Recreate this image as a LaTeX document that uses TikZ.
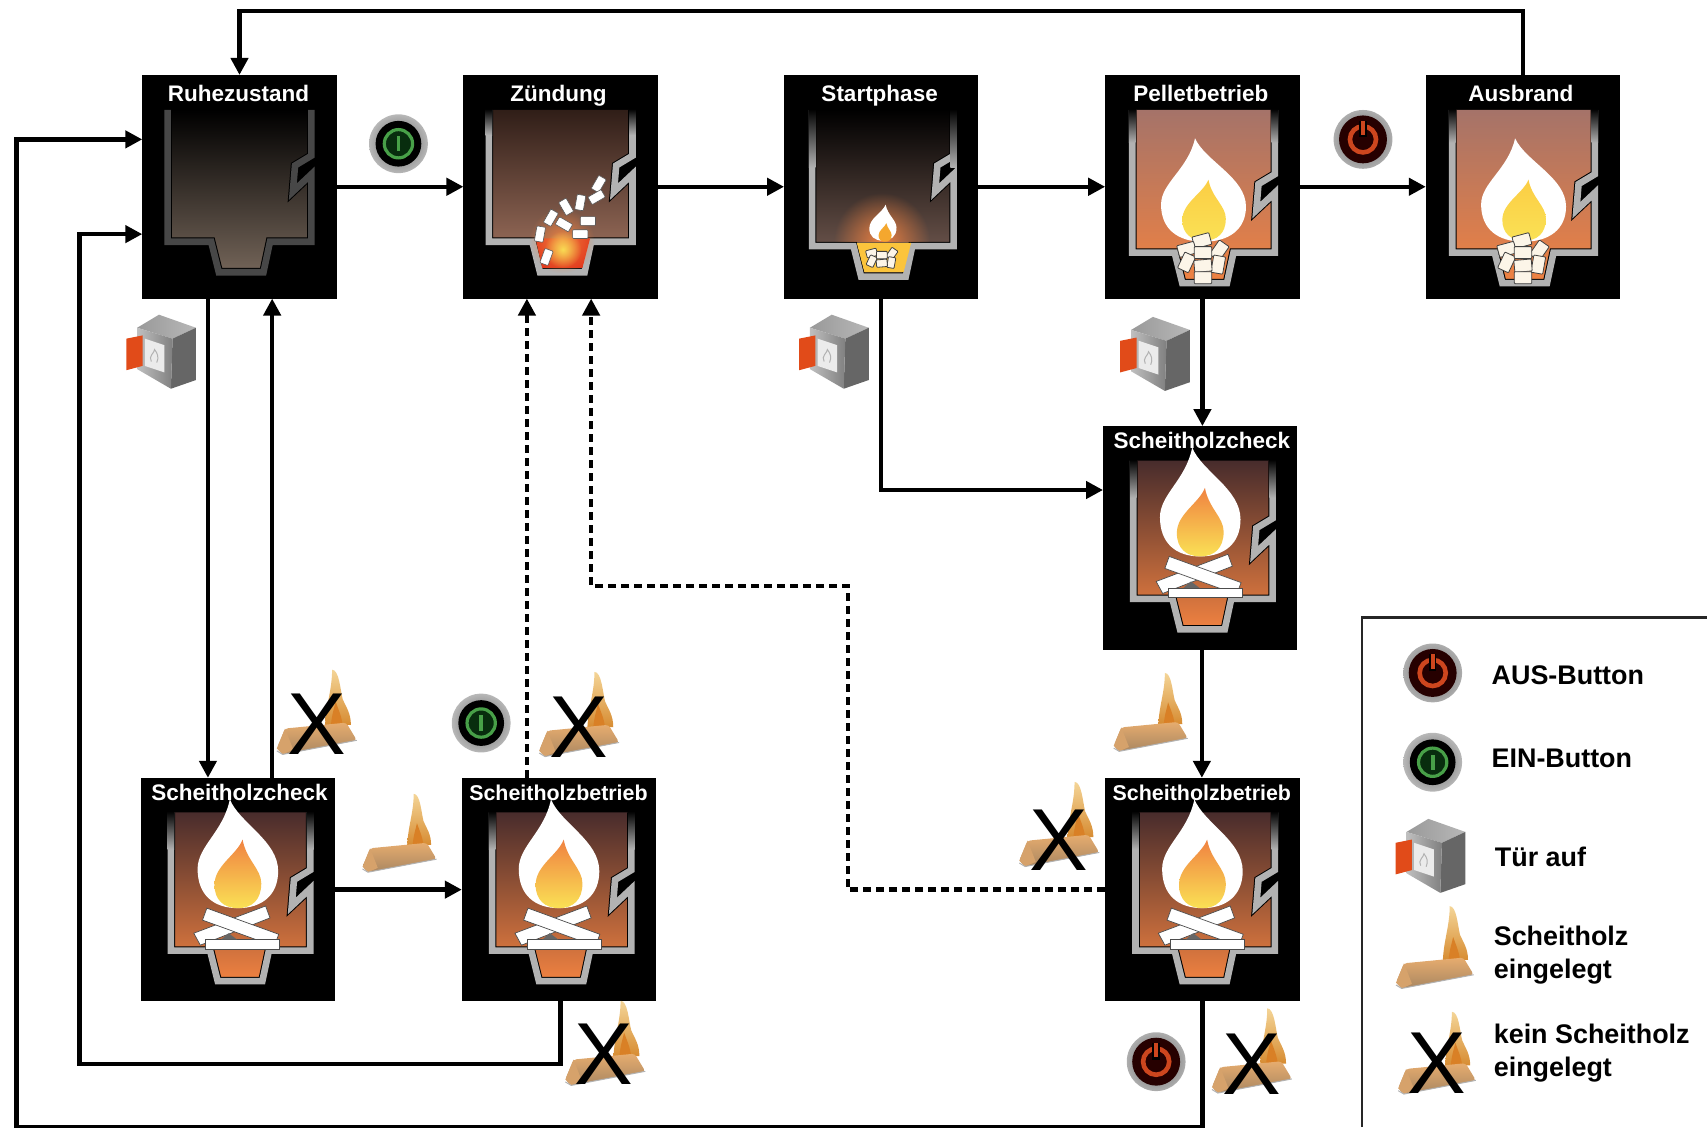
\documentclass[tikz,border=0pt]{standalone}
\usepackage{fontspec}
\setmainfont{Liberation Sans}
\usetikzlibrary{arrows.meta,calc,fadings}
\tikzfading[name=softglow,inner color=transparent!5,outer color=transparent!100]
\definecolor{doorred}{RGB}{225,75,25}
\definecolor{logtan}{RGB}{226,180,130}
\definecolor{okgreen}{RGB}{72,160,72}
\definecolor{okdark}{RGB}{8,45,14}
\definecolor{offred}{RGB}{205,70,30}
\definecolor{wallgray}{RGB}{178,178,178}
\definecolor{fireorange}{RGB}{240,130,65}
\definecolor{fireyellow}{RGB}{250,225,85}
\definecolor{pelTop}{RGB}{165,115,105}
\definecolor{pelMid}{RGB}{212,122,88}
\definecolor{logTop}{RGB}{72,44,44}
\definecolor{logMid}{RGB}{192,116,86}
\definecolor{restMid}{RGB}{26,22,20}
\definecolor{restBot}{RGB}{115,100,88}
\definecolor{zuTop}{RGB}{48,30,24}
\definecolor{zuMid}{RGB}{105,75,62}
\definecolor{zuBot}{RGB}{165,118,98}
\definecolor{stMid}{RGB}{45,36,32}
\definecolor{stBot}{RGB}{125,98,88}
\definecolor{cream}{RGB}{252,245,232}
\definecolor{logflame}{RGB}{238,190,95}
\definecolor{logflamebase}{RGB}{215,140,50}
\tikzset{
  statebox/.style={fill=black,inner sep=0pt,outer sep=0pt,minimum width=194.4pt,minimum height=223.6pt},
  statetitle/.style={text=white,font=\bfseries\fontsize{22.5}{26}\selectfont,inner sep=0pt,anchor=base},
  betriebtitle/.style={text=white,font=\bfseries\fontsize{21.4}{26}\selectfont,inner sep=0pt,anchor=base},
  legendtext/.style={font=\bfseries\fontsize{26.9}{33}\selectfont,inner sep=0pt,anchor=west,align=left},
  crossmark/.style={font=\fontsize{88}{88}\selectfont,inner sep=0pt},
  link/.style={line width=4.4pt,-{Triangle[length=17pt,width=17pt]}},
  dashlink/.style={line width=4.4pt,dash pattern=on 8pt off 5pt},
  framepart/.style={line width=2.4pt,draw=black!85},
  pelletbit/.style={fill=white,draw=black!65,line width=.6pt,rounded corners=.8pt},
  heapbit/.style={fill=cream,draw=black!75,line width=.8pt,rounded corners=.8pt},
}
% interior and wall: floor y, notch y, wall colour, interior colours
\newcommand{\furn}[6]{%
  \shade[top color=#4,middle color=#5,bottom color=#6]
    (\wl,32) -- (\wl,#1) -- (63,#1) -- (70,#1+28) -- (111,#1+28) -- (117,#1) -- (155,#1)
    -- (155,#2+19) -- (138,#2+35) -- (140,#2+11) -- (155,#2+2) -- (155,32) -- cycle;
  \draw[black,line width=8.6pt,line join=miter]
    (\wl,32) -- (\wl,#1) -- (63,#1) -- (70,#1+28) -- (111,#1+28) -- (117,#1) -- (155,#1)
    -- (155,#2+19) -- (138,#2+35) -- (140,#2+11) -- (155,#2+2) -- (155,32);
  \draw[#3,line width=6.6pt,line join=miter]
    (\wl,32) -- (\wl,#1) -- (63,#1) -- (70,#1+28) -- (111,#1+28) -- (117,#1) -- (155,#1)
    -- (155,#2+19) -- (138,#2+35) -- (140,#2+11) -- (155,#2+2) -- (155,32);
}
\newcommand{\walltopfade}[2]{%
  \shade[top color=black,bottom color=#1] (\wl-3,31) rectangle (\wl+3,#2);
  \shade[top color=black,bottom color=#1] (152,31) rectangle (158,#2);
}
\newcommand{\flm}[5]{%
  \begin{scope}[shift={(#1,#2)},xscale=#3,yscale=#4]
  \path[#5] (-0.1,0) .. controls (0.02,0.22) and (0.5,0.38) .. (0.5,0.66)
     .. controls (0.5,0.88) and (0.3,1) .. (0,1)
     .. controls (-0.3,1) and (-0.5,0.88) .. (-0.5,0.64)
     .. controls (-0.5,0.43) and (-0.18,0.3) .. (-0.1,0) -- cycle;
  \end{scope}}
\newcommand{\plt}[3]{%
  \begin{scope}[shift={(#1,#2)},rotate=#3]
  \path[pelletbit] (-7,-4) rectangle (7,4);
  \end{scope}}
\newcommand{\hpt}[3]{%
  \begin{scope}[shift={(#1,#2)},rotate=#3]
  \path[heapbit] (-8,-5.5) rectangle (8,5.5);
  \end{scope}}
\newcommand{\heap}{%
  \hpt{88}{152}{15}\hpt{74}{160}{15}\hpt{104}{161}{55}
  \hpt{74}{172}{65}\hpt{89}{163}{0}\hpt{103}{174}{80}\hpt{89}{175}{5}\hpt{89}{186}{0}}
\tikzset{
  furnrest/.pic={
    \def\wl{23}
    \furn{153}{72}{black!72}{black}{restMid}{restBot}},
  furnzuend/.pic={
    \def\wl{23}
    \furn{153}{72}{wallgray}{zuTop}{zuMid}{zuBot}
    \walltopfade{wallgray}{55}
    \path[fill=red!55!brown] (66,150) -- (116,150) -- (109,177) -- (72,177) -- cycle;
    \path[fill=fireorange,path fading=softglow,fit fading=true] (90,152) circle (30);
    \path[fill=fireyellow,path fading=softglow,fit fading=true] (91,160) circle (17);
    \plt{124}{100}{60}\plt{122}{112}{30}\plt{107}{117}{80}\plt{94}{121}{120}\plt{80}{131}{60}
    \plt{92}{137}{150}\plt{114}{134}{0}\plt{70}{146}{80}\plt{107}{146}{0}\plt{76}{167}{70}},
  furnstart/.pic={
    \def\wl{25}
    \furn{157}{72}{wallgray}{black}{stMid}{stBot}
    \walltopfade{wallgray}{85}
    \begin{scope}
    \clip (28,90) rectangle (137,153);
    \path[fill=fireorange,path fading=softglow,fit fading=true] (89,152) circle (44);
    \end{scope}
    \path[fill=fireyellow!70!orange] (66,154) -- (116,154) -- (109,181) -- (73,181) -- cycle;
    \flm{90}{119}{-25}{33}{fill=white}
    \flm{92}{136}{-12}{17}{fill=fireorange!70!yellow}
    \begin{scope}[shift={(89,169)},scale=.62,shift={(-89,-169)}]
    \hpt{74}{160}{15}\hpt{104}{161}{55}\hpt{74}{172}{65}\hpt{89}{163}{0}\hpt{103}{174}{80}\hpt{89}{175}{5}
    \end{scope}},
  furnpellet/.pic={
    \def\wl{24}
    \furn{163}{89}{wallgray}{pelTop}{pelMid}{fireorange}
    \walltopfade{wallgray}{62}
    \flm{89.5}{58}{78}{95}{fill=white}
    \flm{90}{96}{-40}{56}{top color=fireyellow!80!orange,bottom color=fireyellow}
    \heap},
  furnlog/.pic={
    \def\wl{27}
    \furn{159}{83}{wallgray}{logTop}{logMid}{fireorange}
    \walltopfade{wallgray}{66}
    \flm{88.5}{20}{74}{100}{fill=white}
    \flm{88.5}{57}{-43}{63}{top color=fireorange,bottom color=fireyellow}
    \path[fill=white,draw=black!70,line width=.7pt] (48,143) -- (114,118) -- (118,129) -- (54,154) -- cycle;
    \path[fill=white,draw=black!70,line width=.7pt] (60,120) -- (126,144) -- (122,155) -- (56,131) -- cycle;
    \path[fill=white,draw=black!70,line width=.7pt] (59,149) -- (127,149) -- (127,158) -- (59,158) -- cycle;
    \path[fill=black!60] (73,149) -- (88,149) -- (80,143) -- cycle;},
  onbutton/.pic={
    \shade[inner color=black!65,outer color=black!28] (0,0) circle (27);
    \path[fill=black] (0,0) circle (21);
    \path[fill=okdark,draw=okgreen,line width=3.2pt] (0,0) circle (13);
    \path[fill=okgreen] (-1.7,-7) rectangle (1.7,7);},
  offbutton/.pic={
    \shade[inner color=black!65,outer color=black!32] (0,0) circle (27);
    \path[fill=black!85!red] (0,0) circle (22);
    \draw[offred,line width=4.6pt] (0,0) circle (12);
    \path[fill=black] (-3.5,-17) rectangle (3.5,-2);
    \path[fill=offred] (-1.7,-17) rectangle (1.7,-4);},
  dooricon/.pic={
    \shade[left color=black!40,right color=black!28] (-2,-33) -- (32,-21) -- (10.5,-11) -- (-22,-21) -- cycle;
    \path[fill=black!60] (10.5,-11) -- (32,-21) -- (32,27) -- (9,35) -- cycle;
    \shade[left color=black!25,right color=black!50] (-22,-21) -- (10.5,-11) -- (9,35) -- (-22,17) -- cycle;
    \path[fill=white!92!black] (-15,-11) -- (3,-5) -- (3,20) -- (-15,14) -- cycle;
    \draw[black!30,line width=1pt] (-9,10) .. controls (-12,5) and (-6,2) .. (-6,-1) .. controls (-3,3) and (-2,6) .. (-4,11);
    \path[fill=doorred] (-32,-11) -- (-17,-14) -- (-17,14) -- (-32,18) -- cycle;},
  logicon/.pic={
    \shade[top color=logflame!65!white,bottom color=logflamebase]
      (7,10) .. controls (8,-8) and (13,-20) .. (13,-37) .. controls (19,-37) and (20,-20) .. (22,-12) .. controls (25,-5) and (29,0) .. (29,10) -- cycle;
    \path[fill=orange!40!brown] (12,10) .. controls (13,0) and (15,-5) .. (16,-10) .. controls (18,-4) and (21,2) .. (22,10) -- cycle;
    \shade[top color=logtan!85!orange,bottom color=logtan!75!black,rounded corners=3pt]
      (-27,13) -- (25,8) -- (34,23) -- (-29,35) -- (-34,30) -- cycle;
    \path[fill=logtan!65!brown] (-27,13) -- (-20,31) -- (-29,35) -- (-34,30) -- cycle;
    \draw[black!30,line width=1pt] (-34,32) -- (-29,35) -- (34,23);},
}
\begin{document}
\begin{tikzpicture}[x=1.08865pt,y=-1.0889pt]
\useasboundingbox (0,0) rectangle (1568,1035);
% state boxes
\node[statebox] (ruhe) at (220,171.5) {};
\node[statebox] (zuend) at (515,171.5) {};
\node[statebox] (start) at (809.5,171.5) {};
\node[statebox] (pellet) at (1104.5,171.5) {};
\node[statebox] (ausbrand) at (1399,171.5) {};
\node[statebox] (checkr) at (1102.5,494) {};
\node[statebox] (betriebr) at (1104.5,817) {};
\node[statebox] (checkl) at (218.5,817) {};
\node[statebox] (betriebl) at (513.5,817) {};
% furnace pictures
\pic at (131,69) {furnrest};
\pic at (426,69) {furnzuend};
\pic at (721,69) {furnstart};
\pic at (1016,69) {furnpellet};
\pic at (1310,69) {furnpellet};
\pic at (1014,391) {furnlog};
\pic at (1016,714) {furnlog};
\pic at (130,714) {furnlog};
\pic at (425,714) {furnlog};
% titles
\node[statetitle] (truhe) at (219,93) {Ruhezustand};
\node[statetitle] (tzuend) at (513,93) {Zündung};
\node[statetitle] (tstart) at (808,93) {Startphase};
\node[statetitle] (tpellet) at (1103,93) {Pelletbetrieb};
\node[statetitle] (tausbrand) at (1397,93) {Ausbrand};
\node[statetitle] (tcheckr) at (1104,412) {Scheitholzcheck};
\node[betriebtitle] (tbetriebr) at (1104,735) {Scheitholzbetrieb};
\node[statetitle] (tcheckl) at (220,735) {Scheitholzcheck};
\node[betriebtitle] (tbetriebl) at (513,735) {Scheitholzbetrieb};
% coordinates of the routes
\coordinate (topline) at (0,10);
\coordinate (bottomline) at (0,1035);
\coordinate (leftfar) at (15,0);
\coordinate (leftnear) at (73,0);
\coordinate (midline) at (0,977);
\coordinate (dashx) at (779,0);
\coordinate (dashy) at (0,538);
\coordinate (inhigh) at ($(ruhe.west)+(0,-43.5)$);
\coordinate (inlow) at ($(ruhe.west)+(0,43.5)$);
\coordinate (outl) at ($(betriebl.south)+(1.5,0)$);
\coordinate (checkin) at ($(checkr.west)+(0,-44)$);
\coordinate (zleft) at ($(zuend.south)+(-31,0)$);
\coordinate (zright) at ($(zuend.south)+(28,0)$);
\coordinate (zleftb) at ($(zuend.south)+(-31,14)$);
\coordinate (zrightb) at ($(zuend.south)+(28,14)$);
% solid connectors
\draw[link] (ausbrand.north) -- (ausbrand.north |- topline) -- (ruhe.north |- topline) -- (ruhe.north);
\draw[link] (ruhe.east) -- (zuend.west);
\draw[link] (zuend.east) -- (start.west);
\draw[link] (start.east) -- (pellet.west);
\draw[link] (pellet.east) -- (ausbrand.west);
\draw[link] (pellet.south) -- (pellet.south |- checkr.north);
\draw[link] (start.south) |- (checkin);
\draw[link] ($(checkr.south)+(1.5,0)$) -- ($(betriebr.north)+(-.5,0)$);
\draw[link] ($(ruhe.south)+(-29,0)$) -- ($(checkl.north)+(-27.5,0)$);
\draw[link] ($(checkl.north)+(31.5,0)$) -- ($(ruhe.south)+(30,0)$);
\draw[link] (checkl.east) -- (betriebl.west);
\draw[link] (outl) -- (outl |- midline) -- (leftnear |- midline) -- (leftnear |- inlow) -- (inlow);
\draw[link] (betriebr.south) -- (betriebr.south |- bottomline) -- (leftfar |- bottomline) -- (leftfar |- inhigh) -- (inhigh);
% dashed connectors
\draw[dashlink] ($(betriebl.north)+(-29.5,0)$) -- (zleftb);
\draw[dashlink] (betriebr.west) -- (dashx |- betriebr.west) -- (dashx |- dashy) -- (zright |- dashy) -- (zrightb);
\draw[link] (zleftb) -- (zleft);
\draw[link] (zrightb) -- (zright);
% event icons
\pic at (366,132) {onbutton};
\pic at (442,664) {onbutton};
\pic at (1252,128) {offbutton};
\pic at (1062,975) {offbutton};
\pic at (148,322) {dooricon};
\pic at (766,322) {dooricon};
\pic at (1061,324) {dooricon};
\pic at (367,766) {logicon};
\pic at (1057,655) {logicon};
\pic[scale=1.08] at (291,655) {logicon};
\pic[scale=1.08] at (532,657) {logicon};
\pic[scale=1.08] at (973,758) {logicon};
\pic[scale=1.08] at (556,959) {logicon};
\pic[scale=1.08] at (1150,966) {logicon};
\node[crossmark] (x1) at (291,665) {X};
\node[crossmark] (x2) at (532,668) {X};
\node[crossmark] (x3) at (973,772) {X};
\node[crossmark] (x4) at (555,968) {X};
\node[crossmark] (x5) at (1150,977) {X};
% legend
\coordinate (legtl) at (1251,567);
\draw[framepart] (legtl |- bottomline) -- (legtl) -- (1568,567);
\pic at (1316,618) {offbutton};
\pic at (1316,700) {onbutton};
\pic at (1314,785) {dooricon};
\pic[scale=1.05] at (1318,871) {logicon};
\pic[scale=1.05] at (1320,968) {logicon};
\node[crossmark] (x6) at (1320,976) {X};
\node[legendtext] (l1) at (1370,620) {AUS-Button};
\node[legendtext] (l2) at (1370,696) {EIN-Button};
\node[legendtext] (l3) at (1373,787) {Tür auf};
\node[legendtext] (l4) at (1372,877) {Scheitholz\\eingelegt};
\node[legendtext] (l5) at (1372,967) {kein Scheitholz\\eingelegt};
\end{tikzpicture}
\end{document}
